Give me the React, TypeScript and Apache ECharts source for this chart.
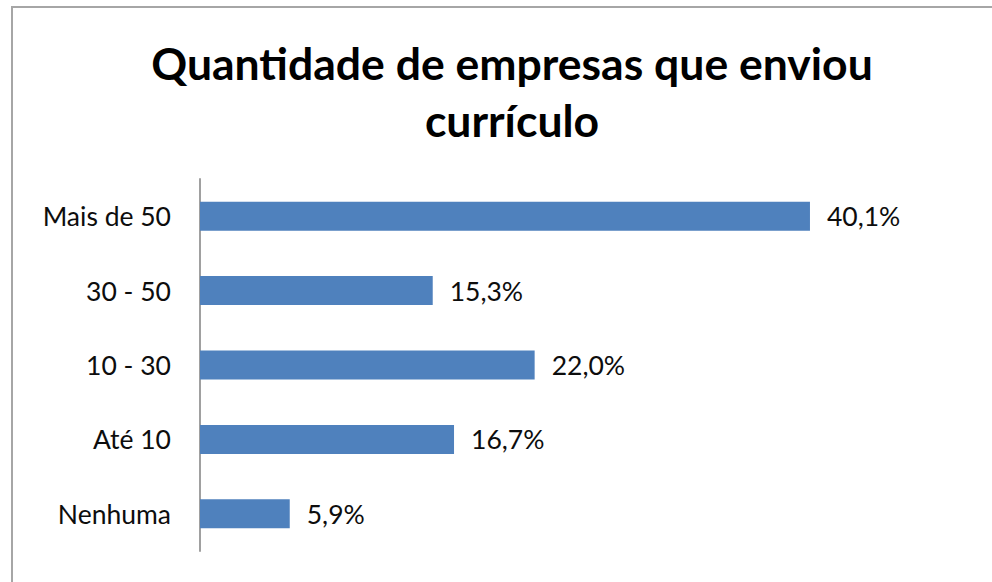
import React, { useEffect, useRef } from "react";
import * as echarts from "echarts";

const categories = ["Mais de 50", "30 - 50", "10 - 30", "Até 10", "Nenhuma"];
const values = [40.1, 15.3, 22.0, 16.7, 5.9];
const titleText = "Quantidade de empresas que enviou\ncurrículo";

export default function App() {
  const ref = useRef<HTMLDivElement>(null);
  useEffect(() => {
    if (!ref.current) return;
    const chart = echarts.init(ref.current, null, { renderer: "svg" });
    chart.setOption({
      animation: false,
      backgroundColor: "#ffffff",
      title: {
        text: titleText,
        left: 507,
        top: 29,
        textAlign: "center",
        textStyle: {
          fontFamily: "Lato",
          fontWeight: "bold",
          fontSize: 44.5,
          lineHeight: 57,
          color: "#000000",
        },
      },
      graphic: [
        {
          type: "rect",
          shape: { x: 12, y: 7, width: 1000, height: 620 },
          style: { fill: "none", stroke: "#a6a6a6", lineWidth: 2 },
          silent: true,
        },
      ],
      grid: { left: 200, top: 179, height: 372, width: 684.5 },
      xAxis: {
        type: "value",
        min: 0,
        max: 45,
        show: false,
      },
      yAxis: {
        type: "category",
        data: categories,
        inverse: true,
        axisLine: { show: true, lineStyle: { color: "#a0a0a0", width: 2 } },
        axisTick: { show: false },
        axisLabel: {
          margin: 29,
          fontFamily: "Lato",
          fontSize: 26.5,
          color: "#0d0d0d",
        },
      },
      series: [
        {
          type: "bar",
          data: values,
          barCategoryGap: "61%",
          itemStyle: { color: "#4f81bd" },
          label: {
            show: true,
            position: "right",
            distance: 17,
            fontFamily: "Lato",
            fontSize: 26.5,
            color: "#0d0d0d",
            formatter: (p: any) => p.value.toFixed(1).replace(".", ",") + "%",
          },
        },
      ],
    });
    return () => chart.dispose();
  }, []);
  return (
    <div
      ref={ref}
      style={{ position: "absolute", left: 0, top: 0, width: 992, height: 582 }}
    />
  );
}
